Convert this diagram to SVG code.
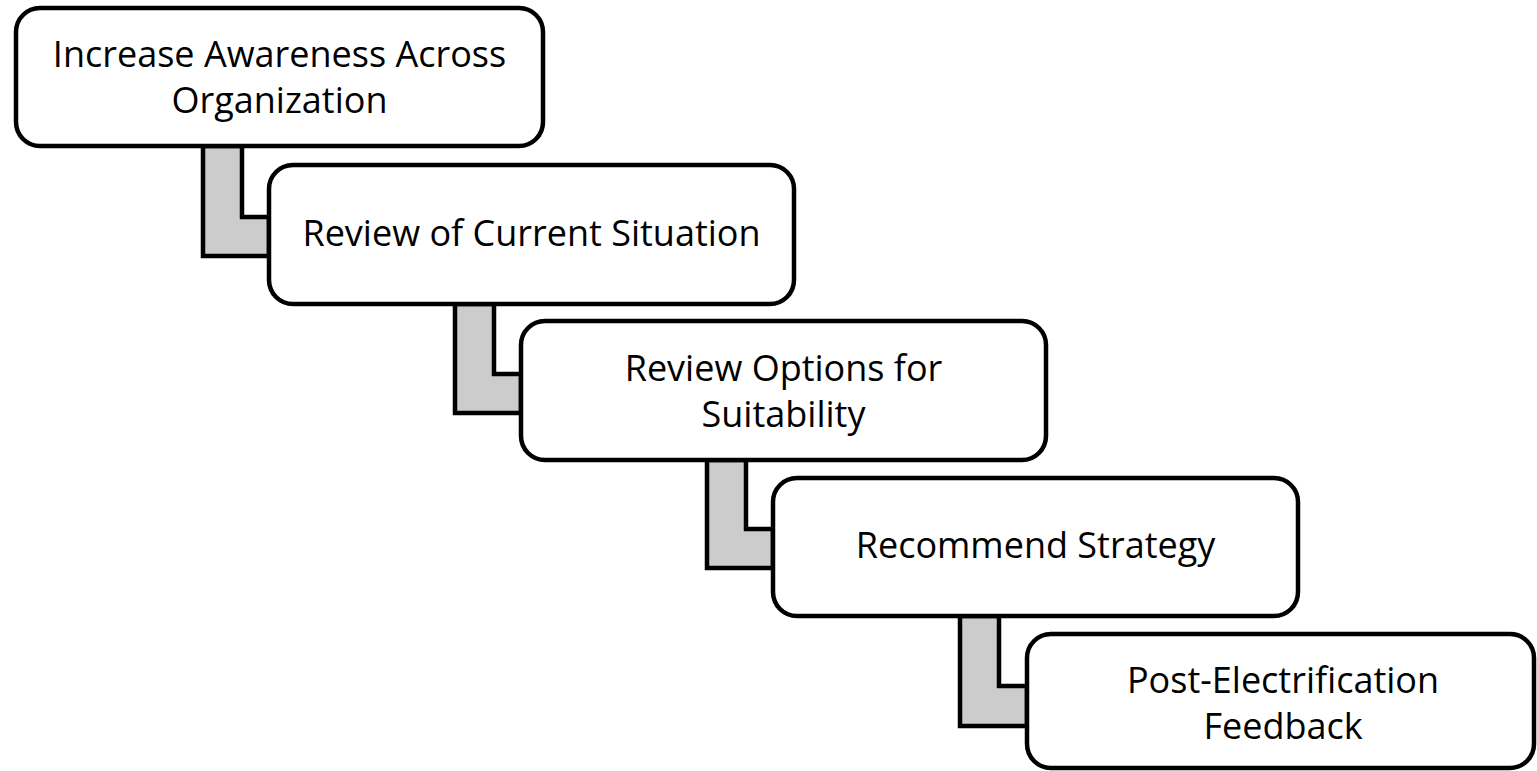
<svg xmlns="http://www.w3.org/2000/svg" width="1537" height="771" viewBox="0 0 1537 771">
  <style>
    .box { fill: #ffffff; stroke: #000000; stroke-width: 4.5; }
    .conn { fill: #cccccc; stroke: #000000; stroke-width: 4.5; stroke-linejoin: miter; }
    .label { font-family: "Open Sans", "Liberation Sans", sans-serif; font-size: 36px; fill: #000000; text-anchor: middle; }
  </style>
  <rect width="1537" height="771" fill="#ffffff"/>
  <g id="connectors">
    <path class="conn" d="M203,146 H242 V217 H269 V256 H203 Z"/>
    <path class="conn" d="M455,304 H494 V374 H521 V413 H455 Z"/>
    <path class="conn" d="M707,460 H746 V529 H773 V568 H707 Z"/>
    <path class="conn" d="M960,616 H999 V686 H1027 V726 H960 Z"/>
  </g>
  <g id="node1">
    <rect class="box" x="16" y="8" width="527" height="138" rx="24" ry="24"/>
    <text class="label" x="279.5" y="67">Increase Awareness Across</text>
    <text class="label" x="279.5" y="113">Organization</text>
  </g>
  <g id="node2">
    <rect class="box" x="269" y="165" width="525" height="139" rx="24" ry="24"/>
    <text class="label" x="531.5" y="246">Review of Current Situation</text>
  </g>
  <g id="node3">
    <rect class="box" x="521" y="321" width="525" height="139" rx="24" ry="24"/>
    <text class="label" x="783.5" y="381">Review Options for</text>
    <text class="label" x="783.5" y="427">Suitability</text>
  </g>
  <g id="node4">
    <rect class="box" x="773" y="478" width="525" height="138" rx="24" ry="24"/>
    <text class="label" x="1035.5" y="558">Recommend Strategy</text>
  </g>
  <g id="node5">
    <rect class="box" x="1027" y="634" width="507" height="134" rx="24" ry="24"/>
    <text class="label" x="1283" y="693">Post-Electrification</text>
    <text class="label" x="1283" y="739">Feedback</text>
  </g>
</svg>
